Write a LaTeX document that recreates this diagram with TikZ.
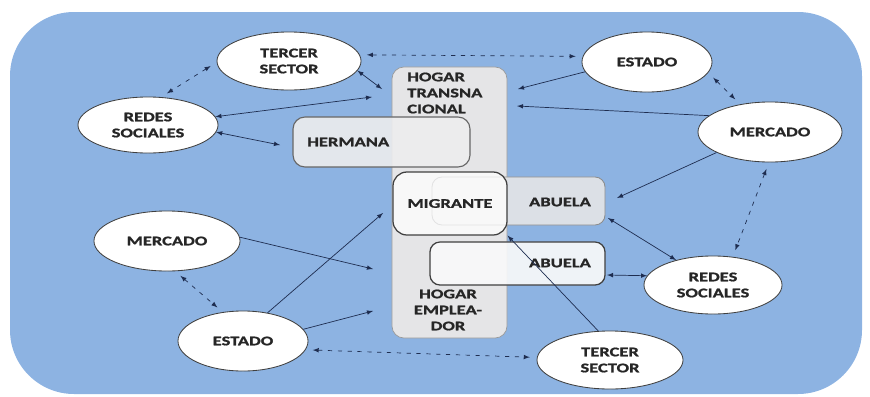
\documentclass[tikz,border=0pt]{standalone}
\usepackage{fontspec}
\newfontfamily\rotulo[FakeStretch=1.40, FakeBold=1.2]{Carlito Bold}
\usetikzlibrary{shapes,arrows,positioning,calc}
\definecolor{fondo}{RGB}{141,179,226}
\definecolor{caja}{RGB}{229,229,231}
\definecolor{linea}{RGB}{30,45,80}

\begin{document}
\begin{tikzpicture}[x=0.025cm, y=-0.025cm,
    every node/.style={font=\rotulo\fontsize{9.4}{11.4}\selectfont, text=black!85},
    actor/.style={ellipse, draw=black!75, line width=0.6pt, fill=white, align=center, inner sep=0pt},
    hogarbox/.style={rectangle, rounded corners=0.3cm, draw=gray!80, line width=0.5pt, fill=caja},
    hermbox/.style={rectangle, rounded corners=0.3cm, draw=black!60, line width=0.8pt, fill=caja!70!white, fill opacity=0.9},
    migbox/.style={rectangle, rounded corners=0.35cm, draw=black!75, line width=0.9pt, fill=white, fill opacity=0.75, text opacity=1},
    abubox/.style={rectangle, rounded corners=0.25cm, draw=black!45, line width=0.6pt, fill=caja, fill opacity=0.9},
    abubox2/.style={rectangle, rounded corners=0.25cm, draw=black!75, line width=0.9pt, fill=white!80!caja, fill opacity=0.9},
    enlace/.style={draw=linea, line width=0.5pt, >=latex},
    punteado/.style={enlace, <->, dash pattern=on 3pt off 4pt, shorten >=5pt, shorten <=5pt}]
    \useasboundingbox (0,0) rectangle (870,396);

    % Fondo
    \fill[fondo, rounded corners=1.6cm] (10,12) rectangle (862,394);

    % Hogar transnacional / hogar empleador
    \node[hogarbox, minimum width=2.875cm, minimum height=6.775cm] (hogar) at (449.5,202.5) {};
    \node[anchor=west, align=left, inner sep=0pt] (hogarTtxt) at (407,93) {HOGAR\\TRANSNA\\CIONAL};
    \node[align=center, inner sep=0pt] (hogarEtxt) at (448,310) {HOGAR\\EMPLEA-\\DOR};

    % Hermana
    \node[hermbox, minimum width=4.425cm, minimum height=1.25cm] (hermana) at (381.5,142) {};
    \node[anchor=west, inner sep=0pt] (hermtxt) at (307,142) {HERMANA};

    % Abuela (arriba) y migrante
    \node[abubox, minimum width=4.325cm, minimum height=1.2cm] (abuelaA) at (518.5,201) {};
    \node[inner sep=0pt] (abuAtxt) at (560,202) {ABUELA};
    \node[migbox, minimum width=2.85cm, minimum height=1.575cm] (migrante) at (450,203.5) {MIGRANTE};

    % Abuela (abajo)
    \node[abubox2, minimum width=4.375cm, minimum height=1.075cm] (abuelaB) at (517.5,263.5) {};
    \node[inner sep=0pt] (abuBtxt) at (560,263) {ABUELA};

    % Actores
    \node[actor, minimum width=3.6cm, minimum height=1.45cm] (ts) at (289,61) {TERCER\\SECTOR};
    \node[actor, minimum width=3.5cm, minimum height=1.4cm] (rs) at (148,125) {REDES\\SOCIALES};
    \node[actor, minimum width=3.25cm, minimum height=1.5cm] (es) at (647,62) {ESTADO};
    \node[actor, minimum width=3.6cm, minimum height=1.5cm] (mr) at (770,132) {MERCADO};
    \node[actor, minimum width=3.65cm, minimum height=1.5cm] (ml) at (167,241) {MERCADO};
    \node[actor, minimum width=3.25cm, minimum height=1.5cm] (eb) at (243,341) {ESTADO};
    \node[actor, minimum width=3.45cm, minimum height=1.45cm] (rs2) at (713,285) {REDES\\SOCIALES};
    \node[actor, minimum width=3.65cm, minimum height=1.45cm] (tb) at (610,360) {TERCER\\SECTOR};

    % Puntos de llegada
    \coordinate (hT1) at (382,89);
    \coordinate (hT2) at (372,97);
    \coordinate (hT3) at (518,89);
    \coordinate (hT4) at (517,106);
    \coordinate (herm1) at (280,145);
    \coordinate (ab1) at (617,198);
    \coordinate (ab2) at (608,218);
    \coordinate (ab3) at (607,275);
    \coordinate (mig1) at (383,213);
    \coordinate (hE1) at (373,269);
    \coordinate (hE2) at (373,311);

    % Conexiones
    \draw[enlace, <->] (ts.-8) -- (hT1);
    \draw[punteado] (ts.5) -- (es.175);
    \draw[punteado] (ts.181) -- (rs.65);
    \draw[enlace, <->] (rs.7) -- (hT2);
    \draw[enlace, <->] (rs.-6) -- (herm1);
    \draw[enlace, ->] (es.189) -- (hT3);
    \draw[punteado] (es.-10) -- (mr.137);
    \draw[enlace, ->] (mr.165) -- (hT4);
    \draw[enlace, ->] (mr.201) -- (ab1);
    \draw[punteado] (mr.-92) -- (rs2.55);
    \draw[enlace, <->] (ab2) -- (rs2.146);
    \draw[enlace, <->] (ab3) -- (rs2.172);
    \draw[enlace, ->] (tb.112) -- (migrante.south east);
    \draw[punteado] (eb.-8) -- (tb.178);
    \draw[punteado] (ml.-75) -- (eb.125);
    \draw[enlace, ->] (ml.3) -- (hE1);
    \draw[enlace, ->] (eb.49) -- (mig1);
    \draw[enlace, ->] (eb.11) -- (hE2);
\end{tikzpicture}
\end{document}
